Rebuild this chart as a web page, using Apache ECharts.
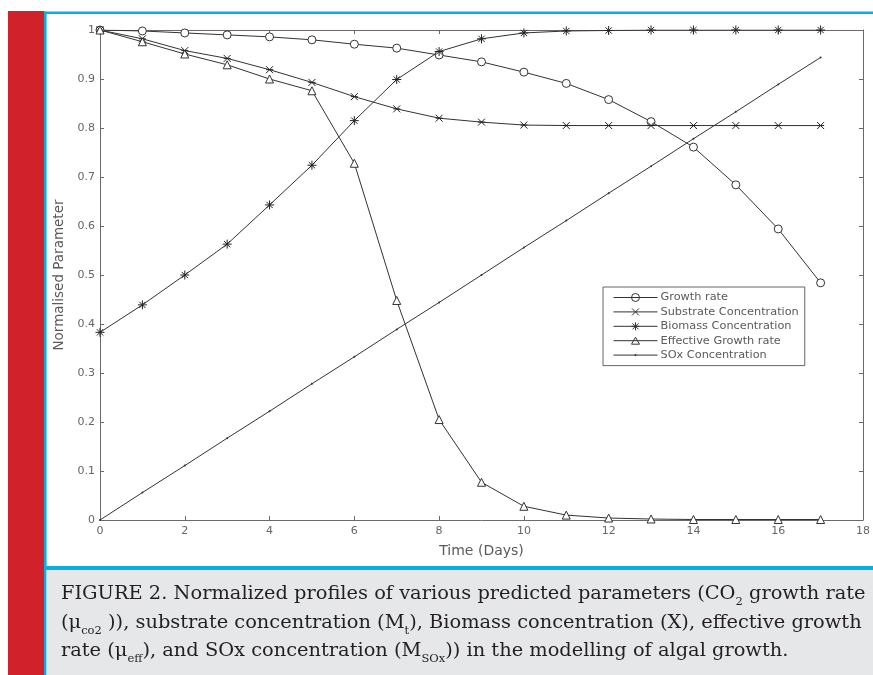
<!DOCTYPE html>
<html>
<head>
<meta charset="utf-8">
<script src="https://cdn.jsdelivr.net/npm/echarts@6/dist/echarts.min.js"></script>
<style>
  html, body { margin: 0; padding: 0; background: #ffffff; }
  #chart { width: 873px; height: 675px; }
</style>
</head>
<body>
<div id="chart"></div>
<script>
// ---- data ----
const days = [0, 1, 2, 3, 4, 5, 6, 7, 8, 9, 10, 11, 12, 13, 14, 15, 16, 17];
const growthRate = [1.0, 0.998, 0.994, 0.99, 0.986, 0.98, 0.971, 0.963, 0.949, 0.935, 0.914, 0.891, 0.858, 0.813, 0.761, 0.684, 0.594, 0.484];
const substrate  = [1.0, 0.982, 0.958, 0.942, 0.919, 0.893, 0.864, 0.839, 0.82, 0.812, 0.806, 0.805, 0.805, 0.805, 0.805, 0.805, 0.805, 0.805];
const biomass    = [0.383, 0.439, 0.5, 0.563, 0.643, 0.724, 0.815, 0.899, 0.956, 0.982, 0.994, 0.998, 0.999, 1.0, 1.0, 1.0, 1.0, 1.0];
const effGrowth  = [1.0, 0.976, 0.951, 0.929, 0.9, 0.876, 0.728, 0.448, 0.205, 0.077, 0.028, 0.01, 0.004, 0.002, 0.001, 0.001, 0.001, 0.001];
const soxConc    = [0, 0.056, 0.111, 0.167, 0.222, 0.278, 0.333, 0.389, 0.444, 0.5, 0.556, 0.611, 0.667, 0.722, 0.778, 0.833, 0.889, 0.944];
const seriesNames = ['Growth rate', 'Substrate Concentration', 'Biomass Concentration', 'Effective Growth rate', 'SOx Concentration'];
const xTicks = [0, 2, 4, 6, 8, 10, 12, 14, 16, 18];
const yTicks = [0, 0.1, 0.2, 0.3, 0.4, 0.5, 0.6, 0.7, 0.8, 0.9, 1];
const xTitle = 'Time (Days)';
const yTitle = 'Normalised Parameter';

const pairs = vals => days.map((d, i) => [d, vals[i]]);

const LINE = '#333333';
const AX = '#6a6a6a';
const LBL = '#5a5a5a';
const TICKLBL = '#666666';
const SANS = '"DejaVu Sans", Arial, sans-serif';
const SERIF = '"DejaVu Serif", serif';

const xMark = 'path://M0 0 L10 10 M10 0 L0 10 M0 5 L10 5';
const asterisk = 'path://M5 0 L5 10 M0 5 L10 5 M1.5 1.5 L8.5 8.5 M8.5 1.5 L1.5 8.5';

// legend icons: line sample with the marker in its middle
const legendIcons = [
  'path://M0 5 L44 5 M26 5 A4 4 0 1 1 18 5 A4 4 0 1 1 26 5',
  'path://M0 5 L44 5 M18.5 1.5 L25.5 8.5 M25.5 1.5 L18.5 8.5',
  'path://M0 5 L44 5 M22 1 L22 9 M18 5 L26 5 M19 2 L25 8 M25 2 L19 8',
  'path://M0 5 L44 5 M22 1.5 L26 8.5 L18 8.5 Z',
  'path://M0 5 L44 5 M21.5 4.5 L22.5 4.5 L22.5 5.5 L21.5 5.5 Z'
];
const legendFills = ['#ffffff', 'rgba(0,0,0,0)', 'rgba(0,0,0,0)', '#ffffff', '#333333'];

function mkSeries(name, vals, symbol, size, pathSym) {
  return {
    name: name,
    type: 'line',
    data: pairs(vals),
    symbol: symbol,
    symbolSize: size,
    showAllSymbol: true,
    lineStyle: { color: LINE, width: 1 },
    itemStyle: pathSym
      ? { color: 'rgba(0,0,0,0)', borderColor: '#222', borderWidth: 1 }
      : { color: '#ffffff', borderColor: '#333', borderWidth: 1 },
    emphasis: { disabled: true },
    animation: false,
    z: 3
  };
}

const chart = echarts.init(document.getElementById('chart'), null, { renderer: 'canvas' });

function axisCommon() {
  return {
    axisLine: { show: true, onZero: false, lineStyle: { color: AX, width: 1 } },
    axisTick: { show: true, inside: true, length: 4, lineStyle: { color: AX } },
    splitLine: { show: false }
  };
}

const option = {
  backgroundColor: '#ffffff',
  animation: false,
  grid: { left: 100, right: 6, top: 30, bottom: 155, containLabel: false },
  legend: {
    orient: 'vertical',
    left: 603,
    top: 287,
    data: seriesNames.map((n, i) => ({
      name: n,
      icon: legendIcons[i],
      itemStyle: { color: legendFills[i], borderColor: '#333', borderWidth: 1 }
    })),
    itemWidth: 44,
    itemHeight: 10,
    itemGap: 3.4,
    symbolKeepAspect: true,
    padding: [5, 6, 5, 10],
    backgroundColor: '#ffffff',
    borderColor: '#666',
    borderWidth: 1,
    borderRadius: 0,
    selectedMode: false,
    textStyle: { fontFamily: SANS, fontSize: 11.3, color: LBL, padding: [0, 0, 0, -2] }
  },
  xAxis: [
    Object.assign({
      type: 'value', min: 0, max: 18, interval: 2,
      name: xTitle, nameLocation: 'middle', nameGap: 24,
      nameTextStyle: { fontFamily: SANS, fontSize: 14, color: LBL },
      axisLabel: { fontFamily: SANS, fontSize: 11, color: TICKLBL, margin: 6,
        formatter: v => xTicks.indexOf(v) >= 0 ? String(v) : '' }
    }, axisCommon()),
    Object.assign({
      type: 'value', min: 0, max: 18, interval: 2, position: 'top',
      axisLabel: { show: false }
    }, axisCommon())
  ],
  yAxis: [
    Object.assign({
      type: 'value', min: 0, max: 1, interval: 0.1,
      name: yTitle, nameLocation: 'middle', nameGap: 31,
      nameTextStyle: { fontFamily: SANS, fontSize: 13.5, color: LBL },
      axisLabel: { fontFamily: SANS, fontSize: 11, color: TICKLBL, margin: 5,
        formatter: v => {
          const t = yTicks.find(k => Math.abs(k - v) < 1e-9);
          return t === undefined ? '' : String(t);
        } }
    }, axisCommon()),
    Object.assign({
      type: 'value', min: 0, max: 1, interval: 0.1, position: 'right',
      axisLabel: { show: false }
    }, axisCommon())
  ],
  series: [
    mkSeries(seriesNames[0], growthRate, 'circle', 8, false),
    mkSeries(seriesNames[1], substrate, xMark, 7, true),
    mkSeries(seriesNames[2], biomass, asterisk, 9, true),
    mkSeries(seriesNames[3], effGrowth, 'triangle', 8, false),
    Object.assign(mkSeries(seriesNames[4], soxConc, 'circle', 2, false),
      { itemStyle: { color: '#333', borderWidth: 0 } })
  ],
  graphic: [
    { type: 'rect', shape: { x: 8, y: 11, width: 36, height: 664 }, style: { fill: '#d1222b' }, z: 100 },
    { type: 'rect', shape: { x: 44, y: 11.5, width: 829, height: 2.6 }, style: { fill: '#0aaee6' }, z: 100 },
    { type: 'rect', shape: { x: 44, y: 11.5, width: 2.6, height: 664 }, style: { fill: '#0aaee6' }, z: 100 },
    { type: 'rect', shape: { x: 46, y: 566, width: 827, height: 4 }, style: { fill: '#0aaee6' }, z: 100 },
    { type: 'rect', shape: { x: 46.6, y: 570, width: 827, height: 105 }, style: { fill: '#e6e7e9' }, z: 100 },
    {
      type: 'text', left: 61, top: 580, z: 101,
      style: {
        text: 'FIGURE 2. Normalized profiles of various predicted parameters (CO{sub|2} growth rate\n' +
              '(\u03bc{sub|co2} )), substrate concentration (M{sub|t}), Biomass concentration (X), effective growth\n' +
              'rate (\u03bc{sub|eff}), and SOx concentration (M{sub|SOx})) in the modelling of algal growth.',
        fontFamily: SERIF,
        fontSize: 19.4,
        fill: '#231f20',
        lineHeight: 28.5,
        rich: {
          sub: { fontFamily: SERIF, fontSize: 11.5, fill: '#231f20', lineHeight: 0, verticalAlign: 'bottom' }
        }
      }
    }
  ]
};

chart.setOption(option);
</script>
</body>
</html>
